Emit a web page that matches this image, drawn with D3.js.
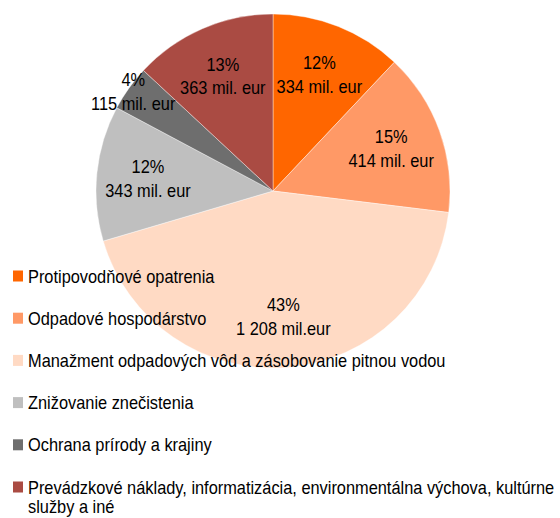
<!DOCTYPE html>
<html lang="sk">
<head>
  <meta charset="UTF-8">
  <title>Pie</title>
  <style>
    body { margin: 0; background: #fff; }
    svg text { font-family: "Liberation Sans", Arial, sans-serif; font-size: 18px; fill: #000; }
  </style>
</head>
<body>
<svg id="chart" width="560" height="518"></svg>

<script src="https://d3js.org/d3.v7.min.js"></script>
<script>

var categories = [
  "Protipovodňové opatrenia",
  "Odpadové hospodárstvo",
  "Manažment odpadových vôd a zásobovanie pitnou vodou",
  "Znižovanie znečistenia",
  "Ochrana prírody a krajiny",
  "Prevádzkové náklady, informatizácia, environmentálna výchova, kultúrne služby a iné"
];
var values = [334, 414, 1208, 343, 115, 363];
var percentLabels = ["12%", "15%", "43%", "12%", "4%", "13%"];
var valueLabels = ["334 mil. eur", "414 mil. eur", "1 208 mil.eur", "343 mil. eur", "115 mil. eur", "363 mil. eur"];
var colors = ["#ff6600", "#ff9966", "#ffdac4", "#bfbfbf", "#6e6e6e", "#aa4b43"];

var svg = d3.select("#chart"),
  width = +svg.attr("width"),
  cx = 273, cy = 191, r = 177,
  sx = 0.91; // the text in the original is a bit squeezed

var data = values.map(function (v, i) { return { i: i, v: v }; });

var pie = d3.pie().sort(null).value(function (d) { return d.v; });
var arcs = pie(data);

var arc = d3.arc().innerRadius(0).outerRadius(r);
var labelArc = d3.arc().innerRadius(r * 0.71).outerRadius(r * 0.71);
var edgeArc = d3.arc().innerRadius(r * 0.97).outerRadius(r * 0.97);

var g = svg.append("g").attr("transform", "translate(" + cx + "," + cy + ")");

g.selectAll("path.slice")
  .data(arcs)
  .enter().append("path")
    .attr("class", "slice")
    .attr("d", arc)
    .attr("fill", function (d) { return colors[d.data.i]; })
    .attr("stroke", "#fff")
    .attr("stroke-width", 0.4);

// labels; tiny slices sit near the edge like excel does
var lab = g.selectAll("text.lab")
  .data(arcs)
  .enter().append("text")
    .attr("class", "lab")
    .attr("text-anchor", "middle")
    .attr("transform", function (d) {
      var small = (d.endAngle - d.startAngle) < 0.3;
      var c = (small ? edgeArc : labelArc).centroid(d);
      return "translate(" + c[0] + "," + (c[1] - 5) + ") scale(" + sx + ",1)";
    });
lab.append("tspan").attr("x", 0).text(function (d) { return percentLabels[d.data.i]; });
lab.append("tspan").attr("x", 0).attr("dy", 23.5).text(function (d) { return valueLabels[d.data.i]; });

// legend
var legX = 13, textX = 28, legY0 = 276, legStep = 42.2;
var leg = svg.append("g");
var item = leg.selectAll("g")
  .data(categories)
  .enter().append("g")
    .attr("transform", function (d, i) { return "translate(0," + (legY0 + i * legStep) + ")"; });

item.append("rect")
  .attr("x", legX).attr("y", -5.5)
  .attr("width", 10).attr("height", 11)
  .attr("fill", function (d, i) { return colors[i]; });

item.append("text")
  .attr("transform", "translate(" + textX + ",6.5) scale(" + sx + ",1)")
  .each(function (d) {
    var t = d3.select(this), words = d.split(" "), line = [];
    var maxW = (width - textX + 4) / sx;
    var ts = t.append("tspan").attr("x", 0);
    words.forEach(function (w) {
      line.push(w);
      ts.text(line.join(" "));
      if (ts.node().getComputedTextLength() > maxW && line.length > 1) {
        line.pop();
        ts.text(line.join(" "));
        line = [w];
        ts = t.append("tspan").attr("x", 0).attr("dy", 19.5).text(w);
      }
    });
  });

</script>
</body>
</html>
